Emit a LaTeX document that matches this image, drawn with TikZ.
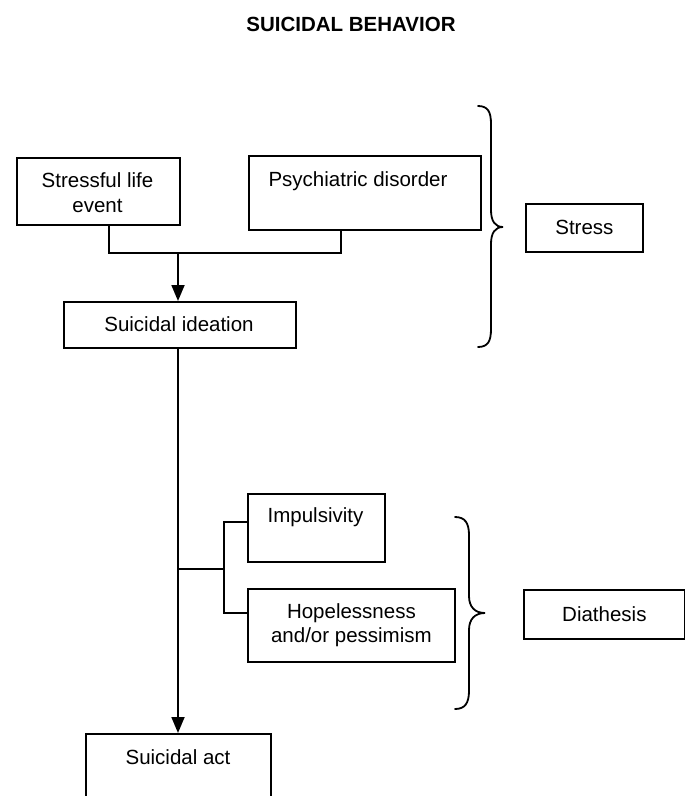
\documentclass[tikz,border=0pt]{standalone}
\usepackage{fontspec}
\setmainfont{Liberation Sans}
\usetikzlibrary{arrows.meta}
\begin{document}
\begin{tikzpicture}[x=1pt,y=-1pt,
  box/.style={draw,line width=1.8pt,inner sep=0pt,anchor=north west},
  txt/.style={inner sep=0pt,align=center,font=\fontsize{20.5}{24.5}\selectfont},
  ln/.style={line width=1.8pt},
  arr/.style={line width=1.8pt,-{Triangle[length=16pt,width=13pt]}},
  brace/.style={line width=1.8pt,line cap=round}]
\clip (0,0) rectangle (685,796);
\useasboundingbox (0,0) rectangle (685,796);

\node[txt,font=\fontsize{20.5}{24.5}\selectfont\bfseries] (title) at (351,24.5) {SUICIDAL BEHAVIOR};

% boxes
\node[box,minimum width=163pt,minimum height=67pt] (sle) at (16,157) {};
\node[txt] (sletxt) at (97.5,192.5) {Stressful life\\event};

\node[box,minimum width=232pt,minimum height=74pt] (psy) at (248,155) {};
\node[txt] (psytxt) at (358,181) {Psychiatric disorder};

\node[box,minimum width=232pt,minimum height=46pt] (ide) at (63,301) {};
\node[txt] (idetxt) at (179,324) {Suicidal ideation};

\node[box,minimum width=117pt,minimum height=48pt] (stress) at (525,203) {};
\node[txt] at (stress.center) {Stress};

\node[box,minimum width=137pt,minimum height=68pt] (imp) at (247,493) {};
\node[txt] (imptxt) at (315.5,517) {Impulsivity};

\node[box,minimum width=207pt,minimum height=73pt] (hop) at (247,588) {};
\node[txt] at (hop.center) {Hopelessness\\and/or pessimism};

\node[box,minimum width=161pt,minimum height=49pt] (dia) at (523,589) {};
\node[txt] at (dia.center) {Diathesis};

\node[box,minimum width=185pt,minimum height=90pt] (act) at (85,733) {};
\node[txt] (acttxt) at (178,757) {Suicidal act};

% connectors
\coordinate (j1) at (178,253);
\draw[ln] (sle.south -| 109,0) |- (j1) -| (psy.south -| 341,0);
\draw[arr] (j1) -- (ide.north -| j1);
\draw[arr] (ide.south -| 178,0) -- (act.north -| 178,0);
\coordinate (j2) at (178,569);
\coordinate (j3) at (224,569);
\draw[ln] (j2) -- (j3);
\draw[ln] (imp.west |- 0,522) -| (j3) |- (hop.west |- 0,613);

% braces
\draw[brace] (478,106) .. controls (488,106) and (491,112) .. (491,124)
  -- (491,210) .. controls (491,221) and (495,227) .. (503,227)
  .. controls (495,227) and (491,233) .. (491,244)
  -- (491,329) .. controls (491,341) and (488,347) .. (478,347);
\draw[brace] (455,517) .. controls (465,517) and (469,523) .. (469,535)
  -- (469,596) .. controls (469,607) and (475,613) .. (485,613)
  .. controls (475,613) and (469,619) .. (469,630)
  -- (469,691) .. controls (469,703) and (465,709) .. (455,709);
\end{tikzpicture}
\end{document}
